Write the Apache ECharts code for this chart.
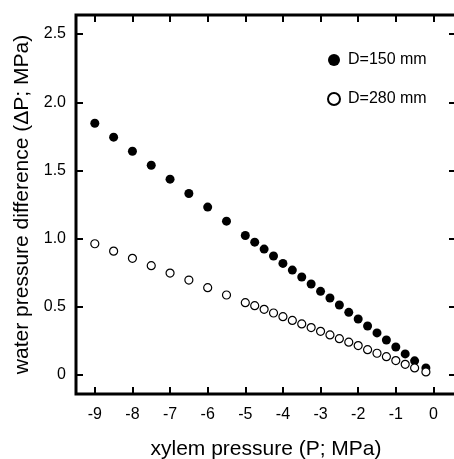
<!DOCTYPE html>
<html><head><meta charset="utf-8">
<script src="https://cdn.jsdelivr.net/npm/echarts@6/dist/echarts.min.js"></script>
<style>html,body{margin:0;padding:0;background:#fff}#c{width:454px;height:459px}</style>
</head><body><div id="c"></div>
<script>
const xValues = [-9,-8.5,-8,-7.5,-7,-6.5,-6,-5.5,-5,-4.75,-4.5,-4.25,-4,-3.75,-3.5,-3.25,-3,-2.75,-2.5,-2.25,-2,-1.75,-1.5,-1.25,-1,-0.75,-0.5,-0.2];
const d150 = [1.846,1.744,1.641,1.538,1.436,1.331,1.231,1.128,1.023,0.974,0.923,0.872,0.818,0.769,0.718,0.667,0.613,0.564,0.513,0.459,0.41,0.359,0.308,0.256,0.205,0.154,0.103,0.051];
const d280 = [0.962,0.908,0.855,0.801,0.747,0.696,0.640,0.586,0.530,0.508,0.481,0.454,0.427,0.400,0.374,0.347,0.320,0.293,0.266,0.240,0.215,0.185,0.159,0.134,0.105,0.078,0.051,0.022];
const xTicks = [-9,-8,-7,-6,-5,-4,-3,-2,-1,0];
const yTicks = [0,0.5,1,1.5,2,2.5];
const seriesNames = ['D=150 mm','D=280 mm'];

const font = 'Liberation Sans, Arial, sans-serif';
const chart = echarts.init(document.getElementById('c'), null, {renderer:'canvas'});
const tickStyle = {show:true, inside:true, length:7, lineStyle:{color:'#000', width:2}};
const noLine = {show:false, onZero:false};
chart.setOption({
  animation:false,
  grid:{left:76, right:-2, top:15, bottom:65, containLabel:false, outerBoundsMode:'none',
    show:true, borderColor:'#000', borderWidth:3, backgroundColor:'transparent'},
  legend:{
    orient:'vertical', left:322, top:47, itemGap:23, itemWidth:12, itemHeight:12,
    textStyle:{fontSize:16, color:'#000', fontFamily:font, padding:[0,0,0,3]},
    data:[{name:seriesNames[0], icon:'circle'},{name:seriesNames[1], icon:'circle'}]
  },
  xAxis:[{
    type:'value', min:-9.5, max:0.6, position:'bottom',
    name:'xylem pressure (P; MPa)', nameLocation:'middle', nameGap:45,
    nameTextStyle:{fontSize:21, color:'#000', fontFamily:font},
    axisLine:noLine, splitLine:{show:false},
    axisTick:Object.assign({customValues:xTicks}, tickStyle),
    axisLabel:{customValues:xTicks, fontSize:16, color:'#000', fontFamily:font, margin:13}
  },{
    type:'value', min:-9.5, max:0.6, position:'top',
    axisLine:noLine, splitLine:{show:false},
    axisTick:Object.assign({customValues:xTicks}, tickStyle),
    axisLabel:{show:false}
  }],
  yAxis:[{
    type:'value', min:-0.14, max:2.64, position:'left',
    name:'water pressure difference (ΔP; MPa)', nameLocation:'middle', nameGap:39,
    nameTextStyle:{fontSize:21, color:'#000', fontFamily:font},
    axisLine:noLine, splitLine:{show:false},
    axisTick:Object.assign({customValues:yTicks}, tickStyle),
    axisLabel:{customValues:yTicks, fontSize:16, color:'#000', fontFamily:font, margin:10,
      formatter:v => v === 0 ? '0' : v.toFixed(1)}
  },{
    type:'value', min:-0.14, max:2.64, position:'right',
    axisLine:noLine, splitLine:{show:false},
    axisTick:Object.assign({customValues:yTicks}, tickStyle),
    axisLabel:{show:false}
  }],
  series:[{
    name:seriesNames[0], type:'scatter', symbol:'circle', symbolSize:9,
    itemStyle:{color:'#000', borderColor:'#000', borderWidth:0, opacity:1},
    data:xValues.map((x,i)=>[x,d150[i]])
  },{
    name:seriesNames[1], type:'scatter', symbol:'circle', symbolSize:8,
    itemStyle:{color:'#fff', borderColor:'#000', borderWidth:1.2, opacity:1},
    data:xValues.map((x,i)=>[x,d280[i]])
  }]
});
</script></body></html>
